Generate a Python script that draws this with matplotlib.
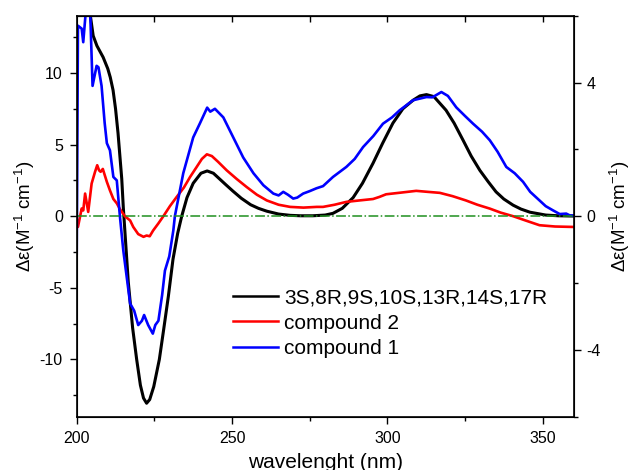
import numpy as np
import matplotlib
matplotlib.use("Agg")
import matplotlib.pyplot as plt
from matplotlib.ticker import MultipleLocator

# CD spectra (wavelength in nm, delta epsilon)
wl_calc = [200, 202, 204, 205.3, 206.5, 208.5, 210, 210.8, 211.7, 212.5, 213.3, 214.5, 215, 216.6,
           218, 219.3, 220.5, 221.5, 222.5, 223.5, 224.8, 226.6, 228, 229.5, 231, 232.5, 233.8,
           235.5, 237.5, 240, 242, 244, 246, 248, 250.3, 253, 256, 258.5, 261.2, 265, 268.7, 272,
           276, 280, 282.5, 285.5, 289, 292, 295.4, 298.5, 301.8, 305, 308.3, 310.5, 312.6, 315,
           318.9, 321.5, 324.4, 327, 329.8, 332.5, 335, 337.5, 340.5, 343, 345.9, 351, 355, 360]
de_calc = [22, 18, 14.6, 12.6, 11.9, 11.1, 10.3, 9.7, 8.8, 7.5, 5.8, 2.6, 0.6, -4.6,
           -7.8, -10.0, -11.8, -12.7, -13.06, -12.8, -11.9, -10.0, -7.9, -5.6, -3.0, -1.2, 0.0,
           1.3, 2.3, 3.0, 3.16, 3.0, 2.6, 2.2, 1.75, 1.25, 0.8, 0.55, 0.35, 0.15, 0.06, 0.03,
           0.03, 0.08, 0.2, 0.55, 1.3, 2.3, 3.7, 5.1, 6.5, 7.5, 8.1, 8.4, 8.49, 8.35,
           7.4, 6.5, 5.3, 4.2, 3.2, 2.4, 1.7, 1.2, 0.77, 0.5, 0.28, 0.08, 0.03, 0.01]

wl_c2 = [200, 200.4, 201.6, 202.1, 202.7, 203.7, 204.8, 205.9, 206.6, 207.2, 207.7, 208.4, 209.7,
         210.7, 211.8, 212.9, 213.9, 215.5, 217.2, 218.2, 219.8, 221.5, 222.5, 223.5, 224.6,
         226.3, 227.9, 230, 232.2, 234.5, 236.5, 238.5, 240.3, 241.9, 243.5, 245.5, 248.3,
         251.5, 254.7, 258, 261.2, 265, 268.7, 273, 277.3, 279.3, 283, 286.8, 291, 295.4,
         297.5, 299.6, 304.5, 309.3, 313, 316.9, 321, 325.3, 329, 333, 336.5, 340.5, 344.5,
         349, 354, 359.8]
de_c2 = [-0.2, -0.75, 0.54, 0.4, 1.58, 0.3, 2.28, 3.1, 3.56, 3.2, 3.1, 3.3, 2.4,
         1.8, 1.2, 0.9, 0.5, 0.0, -0.3, -0.75, -1.25, -1.44, -1.35, -1.4, -1.0,
         -0.5, 0.0, 0.7, 1.35, 2.0, 2.74, 3.4, 4.0, 4.32, 4.2, 3.8, 3.2,
         2.6, 2.04, 1.5, 1.1, 0.8, 0.65, 0.6, 0.65, 0.65, 0.8, 1.0, 1.1, 1.2,
         1.35, 1.53, 1.65, 1.77, 1.7, 1.63, 1.4, 1.1, 0.8, 0.53, 0.25, 0.0, -0.3,
         -0.63, -0.72, -0.75]

wl_c1 = [200, 200.4, 201.6, 202.1, 203, 203.8, 204.3, 205.1, 206.4, 207, 208, 209, 209.7,
         210.7, 211.8, 212.9, 213.9, 215, 217.2, 218.5, 219.8, 221, 221.7, 223, 224.5,
         225.3, 226.3, 227.5, 228.4, 229.8, 231.1, 231.6, 234.3, 237.5, 239.7, 242, 243,
         244.5, 247.2, 250.4, 253.6, 256.9, 260.1, 263.3, 265, 266.5, 268, 269.7, 271,
         272.9, 275, 277.2, 279.3, 282.5, 286.8, 289.5, 292.2, 295.5, 298.6, 301.5, 304,
         308.3, 312.6, 314.5, 317.4, 319.5, 322.2, 325, 327.6, 330.5, 333, 335.5, 338.3,
         341, 343.7, 346, 349, 351, 353.4, 355.5, 357.6, 358.8, 360]
de_c1 = [-2.6, 13.3, 13.1, 12.15, 14.5, 17, 14.5, 9.1, 10.5, 10.4, 9.1, 6.5, 5.1,
         4.6, 2.74, 2.5, 0.0, -2.4, -6.1, -6.6, -7.6, -7.3, -6.9, -7.6, -8.2,
         -7.6, -7.3, -5.5, -3.8, -2.8, -1.0, 0.0, 3.0, 5.5, 6.5, 7.58, 7.3,
         7.5, 6.9, 5.5, 4.1, 3.0, 2.16, 1.58, 1.45, 1.7, 1.5, 1.23, 1.3,
         1.58, 1.75, 1.95, 2.1, 2.74, 3.44, 4.0, 4.83, 5.6, 6.46, 6.9, 7.4,
         8.1, 8.32, 8.3, 8.67, 8.4, 7.6, 7.0, 6.46, 5.9, 5.3, 4.5, 3.44,
         3.0, 2.4, 1.7, 1.1, 0.7, 0.4, 0.15, 0.18, 0.05, 0.05]

labels = ["3S,8R,9S,10S,13R,14S,17R", "compound 2", "compound 1"]

plt.rcParams['font.family'] = ['Liberation Sans', 'DejaVu Sans']
plt.rcParams['mathtext.default'] = 'regular'
plt.rcParams['axes.unicode_minus'] = False

fig = plt.figure(figsize=(6.33, 4.70), dpi=100)
ax = fig.add_axes([0.1212, 0.1134, 0.7851, 0.8532])

ax.plot(wl_calc, de_calc, color='black', lw=2.2, label=labels[0])
ax.plot(wl_c2, de_c2, color='#ff0000', lw=1.9, label=labels[1])
ax.plot(wl_c1, de_c1, color='#0000ff', lw=1.9, label=labels[2])
ax.axhline(0, color='#1f8f1f', lw=1.1, ls='-.', zorder=5)

ax.set_xlim(200, 360)
ax.set_ylim(-14, 14)
ax.xaxis.set_major_locator(MultipleLocator(50))
ax.xaxis.set_minor_locator(MultipleLocator(25))
ax.yaxis.set_major_locator(MultipleLocator(5))
ax.yaxis.set_minor_locator(MultipleLocator(2.5))
ax.tick_params(which='major', direction='out', length=5, width=1, labelsize=11.5, pad=5)
ax.tick_params(which='minor', direction='out', length=3, width=1)
for s in ax.spines.values():
    s.set_linewidth(1.2)

top = ax.secondary_xaxis('top')
top.set_xticks([225, 250, 275, 300, 325, 350])
top.tick_params(direction='in', length=4, width=1, labeltop=False)

ax2 = ax.twinx()
ax2.set_ylim(-6, 6)
ax2.yaxis.set_major_locator(MultipleLocator(4))
ax2.yaxis.set_minor_locator(MultipleLocator(2))
ax2.tick_params(which='major', direction='out', length=5, width=1, labelsize=11.5, pad=4)
ax2.tick_params(which='minor', direction='out', length=3, width=1)

ylab = "\u0394\u03b5(M$^{-1}$ cm$^{-1}$)"
ax.set_ylabel(ylab, fontsize=13.5, labelpad=2)
ax2.set_ylabel(ylab, fontsize=13.5, labelpad=5)
ax.set_xlabel("wavelenght (nm)", fontsize=15, labelpad=5)

leg = ax.legend(loc='center left', bbox_to_anchor=(0.3145, 0.233), frameon=False, fontsize=15,
                handlelength=2.15, handletextpad=0.3, labelspacing=0.3, borderpad=0,
                borderaxespad=0)
for ln in leg.get_lines():
    ln.set_linewidth(1.8)

fig.savefig("out.png", dpi=100)
